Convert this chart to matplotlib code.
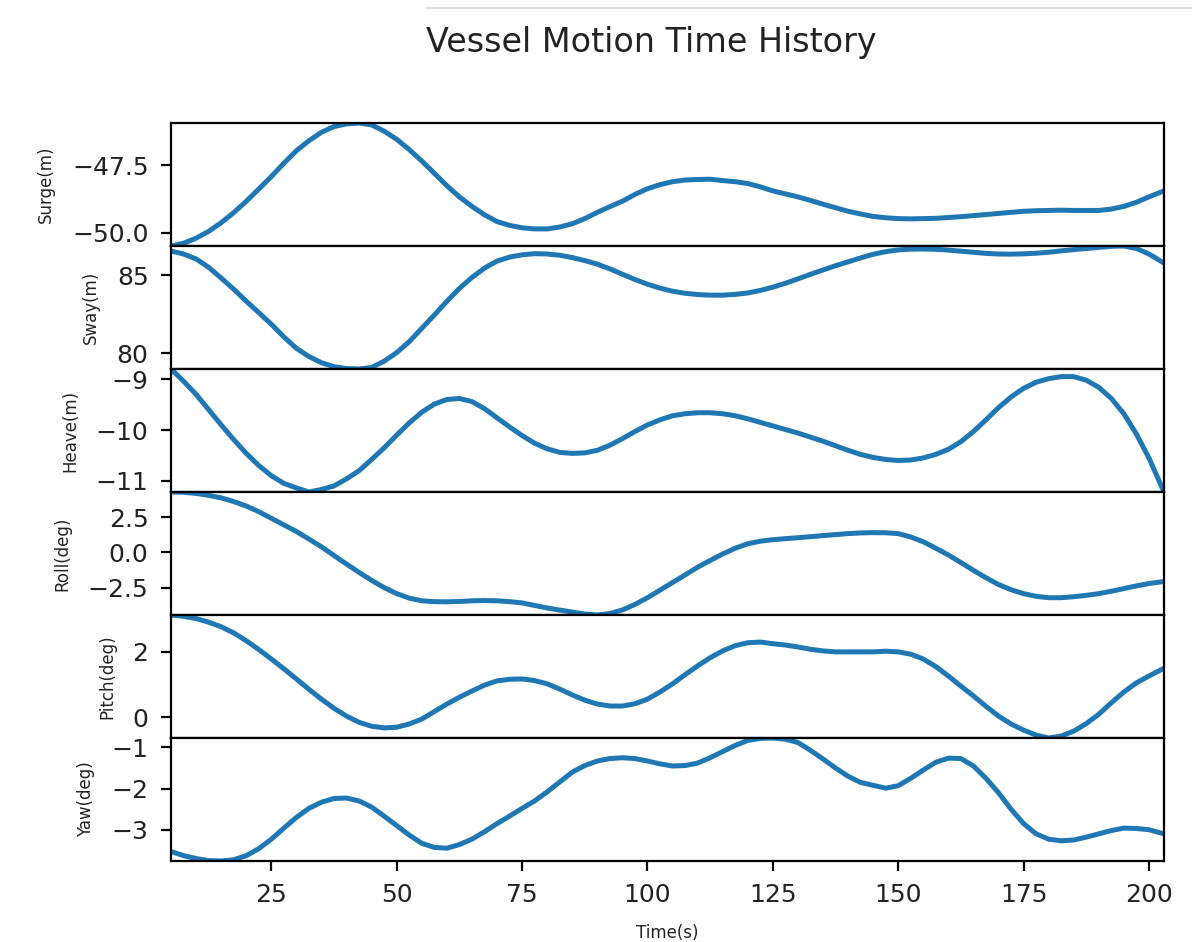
import numpy as np
import matplotlib.pyplot as plt
from matplotlib.lines import Line2D

# sample times (s): every 2.5 s from 5 to 200, then the last sample
time = list(np.arange(5, 200.1, 2.5)) + [203]

surge = [-50.48, -50.38, -50.19, -49.94, -49.62, -49.25, -48.83, -48.38, -47.92, -47.43,
         -46.97, -46.60, -46.29, -46.08, -45.98, -45.95, -46.02, -46.25, -46.55, -46.93,
         -47.35, -47.80, -48.26, -48.67, -49.02, -49.33, -49.58, -49.72, -49.81, -49.85,
         -49.85, -49.78, -49.66, -49.47, -49.24, -49.03, -48.83, -48.58, -48.37, -48.22,
         -48.11, -48.05, -48.03, -48.02, -48.07, -48.11, -48.18, -48.30, -48.45, -48.56,
         -48.67, -48.80, -48.94, -49.07, -49.20, -49.30, -49.39, -49.44, -49.47, -49.48,
         -49.47, -49.46, -49.43, -49.40, -49.36, -49.32, -49.28, -49.24, -49.20, -49.18,
         -49.17, -49.16, -49.17, -49.17, -49.17, -49.12, -49.02, -48.87, -48.67, -48.45]

sway = [86.54, 86.35, 86.03, 85.50, 84.81, 84.10, 83.33, 82.60, 81.86, 81.05,
        80.32, 79.80, 79.40, 79.15, 79.03, 79.00, 79.10, 79.50, 80.05, 80.75,
        81.60, 82.45, 83.33, 84.15, 84.85, 85.45, 85.90, 86.15, 86.30, 86.37,
        86.35, 86.27, 86.12, 85.93, 85.70, 85.40, 85.06, 84.72, 84.42, 84.17,
        83.97, 83.84, 83.76, 83.72, 83.72, 83.77, 83.86, 84.02, 84.23, 84.48,
        84.76, 85.05, 85.33, 85.60, 85.85, 86.10, 86.33, 86.50, 86.61, 86.66,
        86.67, 86.65, 86.60, 86.53, 86.46, 86.39, 86.35, 86.34, 86.36, 86.40,
        86.46, 86.55, 86.63, 86.70, 86.77, 86.84, 86.86, 86.70, 86.35, 85.77]

heave = [-8.80, -9.04, -9.30, -9.60, -9.90, -10.19, -10.46, -10.70, -10.90, -11.05,
         -11.14, -11.22, -11.17, -11.10, -10.96, -10.80, -10.58, -10.35, -10.10, -9.86,
         -9.65, -9.49, -9.40, -9.38, -9.44, -9.58, -9.76, -9.94, -10.11, -10.26,
         -10.37, -10.44, -10.46, -10.45, -10.40, -10.30, -10.17, -10.03, -9.90, -9.80,
         -9.72, -9.68, -9.66, -9.66, -9.68, -9.72, -9.78, -9.85, -9.92, -9.99,
         -10.06, -10.14, -10.22, -10.31, -10.40, -10.48, -10.54, -10.58, -10.60, -10.59,
         -10.55, -10.48, -10.38, -10.23, -10.03, -9.80, -9.56, -9.35, -9.18, -9.06,
         -8.99, -8.95, -8.95, -9.02, -9.16, -9.38, -9.68, -10.08, -10.55, -11.22]

roll = [4.30, 4.28, 4.20, 4.06, 3.88, 3.62, 3.30, 2.90, 2.43, 1.96,
        1.49, 0.95, 0.40, -0.22, -0.83, -1.42, -1.99, -2.50, -2.93, -3.25,
        -3.44, -3.50, -3.51, -3.49, -3.44, -3.42, -3.44, -3.50, -3.59, -3.77,
        -3.95, -4.10, -4.24, -4.38, -4.45, -4.35, -4.09, -3.70, -3.22, -2.68,
        -2.14, -1.60, -1.05, -0.57, -0.11, 0.30, 0.62, 0.80, 0.91, 0.98,
        1.05, 1.12, 1.20, 1.27, 1.34, 1.39, 1.41, 1.40, 1.34, 1.10,
        0.76, 0.30, -0.18, -0.72, -1.27, -1.80, -2.28, -2.65, -2.93, -3.12,
        -3.22, -3.22, -3.15, -3.05, -2.93, -2.76, -2.57, -2.38, -2.21, -2.07]

pitch = [3.13, 3.09, 3.02, 2.91, 2.77, 2.58, 2.34, 2.07, 1.78, 1.48,
         1.17, 0.85, 0.55, 0.27, 0.03, -0.16, -0.28, -0.33, -0.31, -0.21,
         -0.06, 0.17, 0.40, 0.61, 0.80, 0.98, 1.11, 1.16, 1.17, 1.12,
         1.02, 0.86, 0.68, 0.52, 0.40, 0.34, 0.34, 0.41, 0.55, 0.77,
         1.02, 1.30, 1.57, 1.82, 2.03, 2.19, 2.28, 2.30, 2.25, 2.21,
         2.15, 2.08, 2.03, 2.00, 2.00, 2.00, 2.00, 2.02, 2.00, 1.93,
         1.78, 1.55, 1.26, 0.95, 0.65, 0.33, 0.03, -0.21, -0.40, -0.55,
         -0.64, -0.58, -0.43, -0.20, 0.09, 0.44, 0.77, 1.05, 1.26, 1.50]

yaw = [-3.53, -3.63, -3.70, -3.75, -3.76, -3.73, -3.63, -3.46, -3.23, -2.96,
       -2.70, -2.48, -2.33, -2.24, -2.23, -2.30, -2.45, -2.67, -2.90, -3.13,
       -3.33, -3.43, -3.45, -3.36, -3.23, -3.05, -2.85, -2.67, -2.48, -2.30,
       -2.08, -1.84, -1.60, -1.44, -1.33, -1.27, -1.25, -1.27, -1.33, -1.40,
       -1.45, -1.44, -1.38, -1.25, -1.10, -0.95, -0.83, -0.78, -0.77, -0.80,
       -0.88, -1.07, -1.28, -1.50, -1.70, -1.85, -1.92, -1.99, -1.93, -1.75,
       -1.55, -1.36, -1.26, -1.27, -1.45, -1.75, -2.10, -2.50, -2.85, -3.10,
       -3.23, -3.27, -3.25, -3.18, -3.10, -3.02, -2.96, -2.97, -3.00, -3.10]

series = [surge, sway, heave, roll, pitch, yaw]
labels = ['Surge(m)', 'Sway(m)', 'Heave(m)', 'Roll(deg)', 'Pitch(deg)', 'Yaw(deg)']

plt.rcParams['axes.linewidth'] = 1.6

fig, axes = plt.subplots(6, 1, sharex=True, figsize=(11.92, 9.42), dpi=100)
fig.subplots_adjust(left=0.1435, right=0.9765, top=0.8694, bottom=0.086, hspace=0)

for ax, y, lab in zip(axes, series, labels):
    ax.plot(time, y, color='#1f77b4', linewidth=3.6)
    ax.margins(x=0, y=0)
    ax.set_ylabel(lab, fontsize=12, labelpad=12, color='#222222')
    ax.tick_params(labelsize=18, length=7.2, width=1.6, pad=9, labelcolor='#222222')

axes[-1].set_xlabel('Time(s)', fontsize=12, labelpad=12, color='#222222')
fig.suptitle('Vessel Motion Time History', x=0.546, y=0.972, fontsize=24,
             color='#222222')

# thin grey border line of the screenshot at the top
fig.add_artist(Line2D([0.357, 1.0], [0.991, 0.991], color='#dddddd', linewidth=1.5,
                      transform=fig.transFigure))

fig.savefig('out.png', dpi=100)
